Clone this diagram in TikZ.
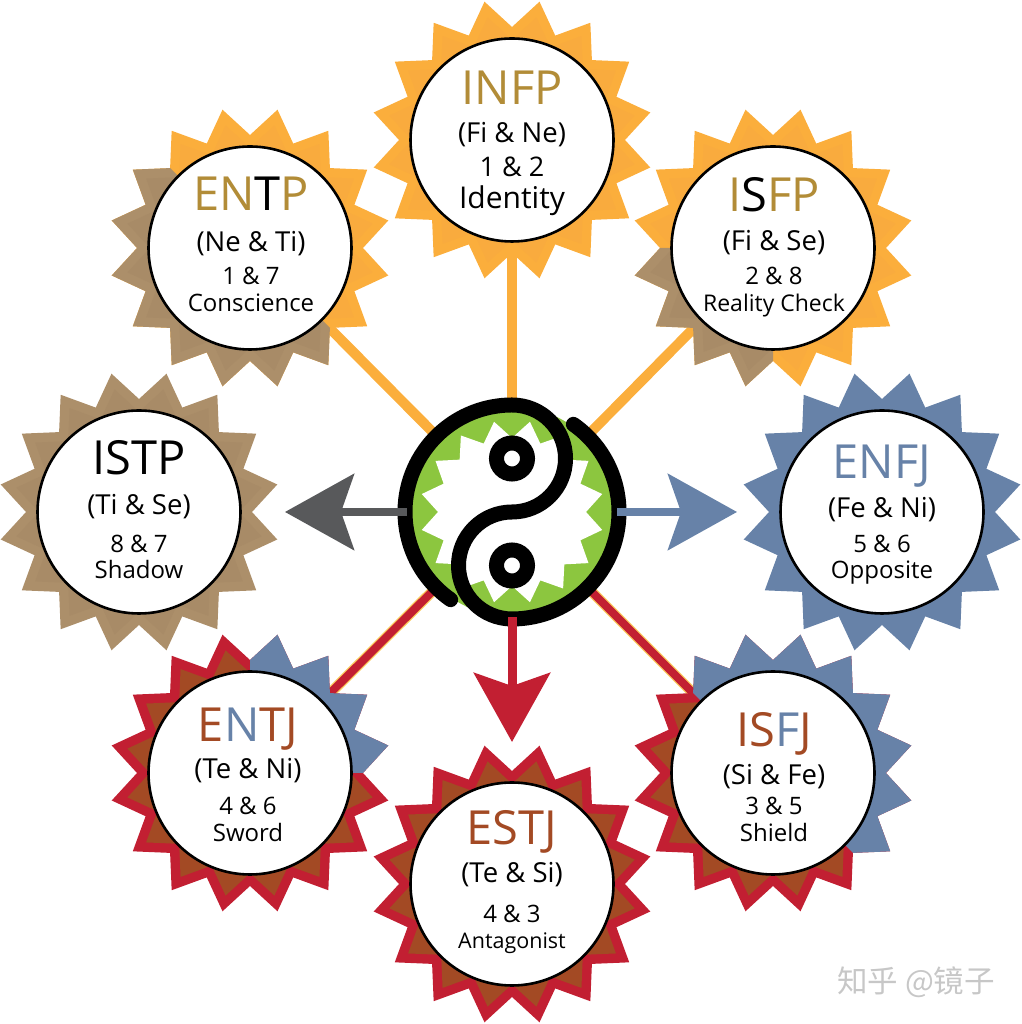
\documentclass[tikz,border=0pt]{standalone}
\usepackage{fontspec}
\setmainfont{Open Sans}
\newfontfamily\cjkfont{Noto Sans CJK SC}
\usepackage{tikz}
\usetikzlibrary{arrows.meta,shapes.geometric,backgrounds,calc}
\definecolor{sunorange}{RGB}{251,174,60}
\definecolor{sunorangein}{RGB}{249,171,62}
\definecolor{suntan}{RGB}{172,143,106}
\definecolor{suntanin}{RGB}{168,139,103}
\definecolor{sunblue}{RGB}{103,130,168}
\definecolor{sunred}{RGB}{194,31,50}
\definecolor{sunbrown}{RGB}{163,74,36}
\definecolor{typegold}{RGB}{178,140,55}
\definecolor{yingreen}{RGB}{140,198,63}
\definecolor{arrowgray}{RGB}{88,89,91}
\definecolor{linkhalo}{RGB}{250,200,90}
\newcommand{\tg}[1]{\textcolor{typegold}{#1}}
\newcommand{\tb}[1]{\textcolor{sunbrown}{#1}}
\newcommand{\tu}[1]{\textcolor{sunblue}{#1}}
\newcommand{\fs}[2]{{\fontsize{#1}{#1}\selectfont #2}}
\tikzset{
  sunstar/.style={star,star points=16,star point ratio=1.248,shape border rotate=11.25,minimum size=282pt,inner sep=0pt,fill=#1},
  suninner/.style={sunstar=#1,minimum size=250pt},
  typedisc/.style={circle,draw=black,line width=2.6pt,fill=white,minimum size=203pt,inner sep=0pt},
  headtxt/.style={anchor=base,yshift=-17pt,font=\fontsize{47}{47}\selectfont},
  functxt/.style={anchor=base,yshift=-10pt,font=\fontsize{27.5}{27.5}\selectfont},
  numtxt/.style={anchor=base,yshift=-9pt,font=\fontsize{24}{24}\selectfont},
  roletxt/.style={anchor=base,yshift=-9pt,font=\fontsize{24}{24}\selectfont},
  yinline/.style={line width=15pt,line cap=round,line join=round,black},
  yineye/.style={circle,draw=black,line width=15pt,fill=white,minimum size=31pt,inner sep=0pt},
  linkline/.style={line width=#1},
  bigtip/.style={-{Stealth[length=69pt,width=76pt,inset=13pt]}}
}
\begin{document}
\begin{tikzpicture}[x=1pt,y=1pt]
\useasboundingbox (0,0) rectangle (1021,1024);
\foreach \nm/\cx/\cy/\fa/\fb in {infp/512/884/sunorange/sunorangein,entp/250/776/sunorange/sunorangein,isfp/773/776/sunorange/sunorangein,istp/139/512/suntan/suntanin,enfj/882/512/sunblue/sunblue,entj/250/251/sunred/sunbrown,isfj/773/251/sunred/sunbrown,estj/512/140/sunred/sunbrown}{\node[sunstar=\fa] (\nm star) at (\cx,\cy) {};\node[suninner=\fb] (\nm core) at (\cx,\cy) {};}
\foreach \nm/\cx/\cy/\sa/\sb/\fa/\fb in {entp/250/776/135/315/suntan/suntanin,isfp/773/776/180/270/suntan/suntanin,entj/250/251/0/90/sunblue/sunblue,isfj/773/251/-45/135/sunblue/sunblue}{\pgfmathsetmacro{\smid}{(\sa+\sb)/2}\begin{scope}\clip (\cx,\cy) -- ($(\cx,\cy)+(\sa:300)$) -- ($(\cx,\cy)+(\smid:500)$) -- ($(\cx,\cy)+(\sb:300)$) -- cycle;\node[sunstar=\fa] (\nm over) at (\cx,\cy) {};\node[suninner=\fb] (\nm overcore) at (\cx,\cy) {};\end{scope}}
\foreach \nm/\cx/\cy in {infp/512/884,entp/250/776,isfp/773/776,istp/139/512,enfj/882/512,entj/250/251,isfj/773/251,estj/512/140}{\node[typedisc] (\nm) at (\cx,\cy) {};}
\foreach \nm/\tx/\head/\func/\num/\role/\ya/\yb/\yc/\yd in {
infp/512/{\tg{INFP}}/{(Fi \& Ne)}/{\fs{27}{1 \& 2}}/{\fs{30}{Identity}}/936/891/856/824,
entp/251/{\tg{EN}T\tg{P}}/{(Ne \& Ti)}/{1 \& 7}/Conscience/830/782/748/721,
isfp/774/{\tg{I}S\tg{FP}}/{(Fi \& Se)}/{2 \& 8}/{\fs{23}{Reality Check}}/829/783/748/721,
istp/139/ISTP/{(Ti \& Se)}/{8 \& 7}/Shadow/566/519/480/454,
enfj/882/{\tu{ENFJ}}/{(Fe \& Ni)}/{5 \& 6}/Opposite/562/516/480/454,
entj/248/{\tb{E}\tu{N}\tb{TJ}}/{(Te \& Ni)}/{4 \& 6}/Sword/299/255/218/191,
isfj/774/{\tb{IS}\tu{F}\tb{J}}/{(Si \& Fe)}/{3 \& 5}/Shield/294/249/218/191,
estj/512/{\tb{ESTJ}}/{(Te \& Si)}/{4 \& 3}/{\fs{21.5}{Antagonist}}/196/151/110/84}{
\node[headtxt] (\nm head) at (\tx,\ya) {\head};
\node[functxt] (\nm func) at (\tx,\yb) {\func};
\node[numtxt] (\nm num) at (\tx,\yc) {\num};
\node[roletxt] (\nm role) at (\tx,\yd) {\role};}
\node[circle,fill=yingreen,minimum size=210pt,inner sep=0pt] (yin) at (512,512) {};
\node[star,star points=16,star point ratio=1.243,shape border rotate=11.25,minimum size=184pt,inner sep=0pt,fill=white] (yinstar) at (yin.center) {};
\node[yineye] (yinup) at (512,565.5) {};
\node[yineye] (yindown) at (512,458.5) {};
\draw[yinline] (yin.center) ++(235:107) arc[start angle=235,end angle=90,radius=107] arc[start angle=90,end angle=-90,radius=53.5] arc[start angle=90,end angle=270,radius=53.5] arc[start angle=270,end angle=415,radius=107];
\coordinate (leftend) at (285,512);
\coordinate (rightend) at (737,512);
\coordinate (downend) at (512,282);
\begin{scope}[on background layer]
\foreach \nm in {infp,entp,isfp}{\draw[linkline=10pt,sunorange] (yin) -- (\nm);}
\foreach \nm in {entj,isfj}{\draw[linkline=10.5pt,linkhalo] (yin) -- (\nm);\draw[linkline=8pt,sunred] (yin) -- (\nm);}
\end{scope}
\draw[bigtip,linkline=8pt,arrowgray] (yin) -- (leftend);
\draw[bigtip,linkline=8pt,sunblue] (yin) -- (rightend);
\draw[bigtip,linkline=9pt,sunred] (yin) -- (downend);
\node[font=\cjkfont\fontsize{30.5}{30.5}\selectfont,text=black!22,anchor=center] (mark) at (916,42) {知乎 @镜子};
\end{tikzpicture}
\end{document}
